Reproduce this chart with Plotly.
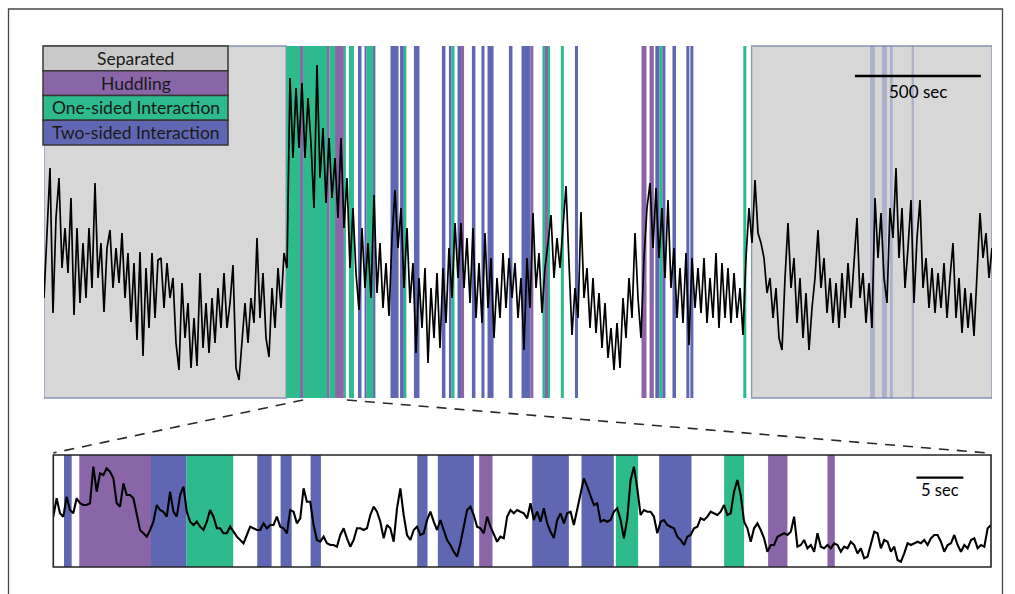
import numpy as np
import plotly.graph_objects as go

W, H = 1015, 594

# ---------------- DATA ----------------
# Full session recording (arbitrary fluorescence units), evenly sampled
TOP_DURATION = 3762  # seconds
top_signal = [
    10, 17, 23, 8.5, 18, 22, 13, 17, 12.5, 20, 8.3, 17, 9.5, 15.5, 10, 17, 11, 21.5, 12, 15.5,
    8.6, 15, 16.8, 11, 15, 11.5, 16.5, 10, 14.5, 7.6, 13.5, 5.8, 14.6, 4.2, 13, 7, 14.5, 8, 13.8, 14,
    9, 13.5, 10, 12, 5.5, 2.8, 11.5, 6, 9.5, 3, 8, 3.2, 12.5, 5, 9.5, 4.5, 10, 5.5, 11, 7,
    12.5, 7, 9.5, 13.3, 3, 1.8, 6, 9.5, 5.5, 10, 7.5, 16, 8, 12.5, 6, 4.1, 11, 7, 13, 9, 14.5,
    13, 32, 24, 31, 25, 31.5, 24, 30, 25.5, 19, 33.3, 22, 27, 19.5, 26, 20, 24, 18, 26, 17,
    22, 13, 19, 12.5, 8.8, 17, 11, 15.5, 10, 20.3, 10.5, 15.5, 9, 13.5, 8.2, 16, 20.8, 15, 19, 11,
    17, 9.5, 13.5, 4.5, 12, 7, 13, 3.5, 11, 6, 12.5, 5, 13, 7.5, 15, 10, 17.5, 12, 17.5, 11,
    16, 9.5, 17, 8, 13.5, 7.5, 16.5, 9, 14, 6, 12, 8, 14.5, 9, 14, 10, 13.5, 8, 12,
    4.8, 14, 9, 18.5, 11, 14.5, 8.5, 13, 15.5, 18.3, 12, 16, 13, 17, 21.2, 13.5, 6.3, 11, 8, 18.6,
    10, 13, 7, 12, 6.5, 10.5, 5, 9.5, 4, 7, 2.8, 7.5, 3, 10, 6, 12, 8, 16.5, 10, 6,
    14, 19, 21.5, 15, 21, 14, 19, 12, 19.8, 11, 15, 8, 13, 7.5, 14.5, 5.3, 14, 9, 13, 8.5,
    14, 7.5, 12, 8, 14.5, 7, 13.5, 8, 13, 7.5, 12.5, 8, 11, 6.3, 14, 19, 15.5, 21.8, 16.5,
    15.5, 14, 10.5, 12, 8, 11, 6, 4.8, 12, 17.5, 11, 14, 7.5, 12, 6, 10.5, 4.8, 9, 12, 16.8,
    11, 14, 8.5, 12, 7.5, 11.5, 7, 12.5, 8, 13.5, 9, 14, 18, 10, 12.5, 7.5, 11.5, 7, 20, 14,
    18.5, 12, 9.5, 19, 16, 23, 14, 19, 11, 15, 19.8, 9.5, 16, 19.8, 11, 14, 9, 13, 8.5, 12.5,
    9, 13.5, 8, 12, 15.5, 8, 12, 6.5, 11, 7, 10.5, 6.2, 13, 18.5, 14, 16.5, 12, 15,
]

# Behaviour epochs in the full session (seconds)
separated_start = [0, 2808]
separated_end = [961, 3762]
huddling_start = [1016, 1123, 1155, 1655, 1930, 1988, 2371, 2403]
huddling_end = [1028, 1133, 1190, 1667, 1942, 2000, 2391, 2420]
one_sided_start = [961, 1028, 1133, 1190, 1210, 1280, 1428, 1617, 1978, 2000, 2051, 2442, 2775]
one_sided_end = [1016, 1123, 1155, 1198, 1230, 1306, 1438, 1629, 1988, 2008, 2063, 2454, 2787]
two_sided_start = [1246, 1272, 1306, 1375, 1413, 1468, 1579, 1607, 1641, 1698, 1736, 1760,
                   1845, 1895, 2107, 2426, 2454, 2494, 2549, 2565]
two_sided_end = [1260, 1280, 1315, 1407, 1428, 1490, 1593, 1617, 1655, 1712, 1748, 1784,
                 1859, 1930, 2119, 2442, 2466, 2508, 2561, 2577]
# two-sided interaction episodes while separated (faint)
two_sided_sep_start = [3278, 3325, 3357, 3443]
two_sided_sep_end = [3297, 3345, 3368, 3452]

# Zoomed excerpt (seconds) shown in the lower panel
ZOOM_WINDOW = [1028, 1202]
BOTTOM_DURATION = 100
bottom_signal = [
    5.03, 6.87, 5.37, 5.03, 7.03, 5.7, 5.37, 6.87, 6.37, 6.2,
    6.2, 6.37, 10.03, 7.53, 9.37, 9.2, 9.87, 9.53, 8.87, 6.37,
    6.03, 8.37, 7.2, 7.2, 6.87, 5.2, 3.7, 3.37, 3.03, 3.7,
    4.53, 6.2, 5.7, 5.53, 5.03, 7.53, 5.53, 5.03, 7.2, 8.03,
    5.53, 4.53, 4.2, 4.53, 4.03, 3.7, 4.53, 5.7, 5.03, 3.87,
    3.87, 3.37, 3.37, 4.03, 3.53, 3.03, 2.7, 2.37, 3.2, 4.03,
    3.87, 3.7, 3.7, 4.37, 3.87, 4.2, 4.2, 5.03, 4.03, 3.87,
    3.37, 5.7, 5.53, 4.37, 4.87, 7.87, 6.53, 6.53, 4.2, 2.7,
    2.53, 3.03, 2.37, 2.2, 2.2, 2.03, 3.2, 3.87, 2.87, 2.03,
    2.7, 3.87, 3.87, 3.7, 3.87, 5.2,
    6.03, 5.53, 4.53, 2.87, 4.2, 3.87, 2.53, 5.87, 7.87, 5.2,
    3.2, 2.7, 3.7, 4.03, 3.2, 3.37, 4.7, 5.53, 4.53, 3.7,
    4.7, 3.7, 2.7, 2.2, 1.53, 1.03, 2.37, 4.03, 5.7, 6.03,
    5.2, 4.03, 3.87, 3.37, 5.03, 4.03, 3.2, 2.53, 3.03, 2.87,
    5.03, 5.7, 5.37, 5.7, 5.53, 5.37, 4.87, 6.37, 4.7, 5.53,
    4.53, 5.87, 4.37, 3.53, 2.9, 4.7, 5.37, 4.37, 5.37, 5.53,
    4.2, 5.7, 7.53, 8.87, 8.03, 7.2, 6.2, 6.37, 4.53, 4.7,
    4.53, 4.7, 5.53, 5.87, 4.7, 2.87, 4.87, 8.7, 10.03, 7.87,
    5.2, 5.7, 5.53, 5.53, 5.03, 3.37, 4.53, 4.7, 4.2, 4.03,
    3.87, 3.03, 2.7, 2.2, 3.03, 3.2,
    3.87, 4.03, 4.87, 4.7, 5.03, 5.53, 5.37, 5.2, 5.53, 6.2,
    5.2, 5.37, 7.53, 8.7, 7.2, 4.53, 3.87, 2.53, 3.87, 4.37,
    3.7, 2.87, 1.53, 2.2, 2.2, 3.03, 3.2, 3.37, 3.2, 3.53,
    5.03, 2.03, 2.2, 2.7, 1.87, 2.2, 1.53, 3.37, 2.03, 1.87,
    2.2, 1.87, 2.37, 2.2, 1.53, 2.03, 1.87, 2.53, 2.2, 1.37,
    1.87, 0.87, 1.03, 2.37, 3.53, 3.37, 1.87, 2.7, 2.53, 1.53,
    2.03, 0.7, 0.53, 1.37, 2.37, 2.2, 2.37, 2.53, 2.37, 2.7,
    2.2, 2.87, 3.2, 3.2, 2.53, 1.53, 2.2, 2.37, 3.2, 2.2,
    1.53, 2.2, 1.87, 2.7, 2.87, 1.87, 2.2, 2.03, 3.87, 4.2,
]
b_two_start = [1.14, 10.42, 21.75, 24.24, 27.44, 38.81, 41.01, 51.07, 56.33, 64.61]
b_two_end = [1.96, 14.22, 23.28, 25.42, 28.54, 39.91, 44.85, 54.98, 59.78, 68.06]
b_hud_start = [2.77, 45.42, 76.23, 82.56]
b_hud_end = [10.42, 46.84, 78.29, 83.34]
b_one_start = [14.22, 59.99, 71.54]
b_one_end = [19.19, 62.37, 73.67]

legend_labels = ["Separated", "Huddling", "One-sided Interaction", "Two-sided Interaction"]
TOP_SCALE = 500   # sec
BOTTOM_SCALE = 5  # sec

# ---------------- STYLE ----------------
C_SEP_LEG = "rgb(201,201,201)"
C_SEP = "rgb(215,215,215)"
C_HUD = "rgb(138,101,168)"
C_ONE = "rgb(45,186,140)"
C_TWO = "rgb(95,103,178)"
C_TWO_FAINT = "rgba(95,103,178,0.35)"
BORDER = "rgb(135,148,180)"
FONT = "Lato"

TOP_XDOM = [44 / W, 992 / W]
TOP_YDOM = [1 - 398 / H, 1 - 46 / H]
BOT_XDOM = [53.3 / W, 991 / W]
BOT_YDOM = [1 - 567 / H, 1 - 455 / H]
TOP_YMAX = 35.2
BOT_YMAX = 11.2

fig = go.Figure()

t_top = np.linspace(0, TOP_DURATION, len(top_signal))
fig.add_trace(go.Scatter(x=t_top, y=top_signal, mode="lines",
                         line=dict(color="black", width=1.7), xaxis="x", yaxis="y",
                         hoverinfo="skip", showlegend=False))
t_bot = np.linspace(0, BOTTOM_DURATION, len(bottom_signal))
fig.add_trace(go.Scatter(x=t_bot, y=bottom_signal, mode="lines",
                         line=dict(color="black", width=2.1), xaxis="x2", yaxis="y2",
                         hoverinfo="skip", showlegend=False))

shapes = []


def bands(starts, ends, color, xref, yref, line=None):
    for s, e in zip(starts, ends):
        shapes.append(dict(type="rect", xref=xref, yref=yref, x0=s, x1=e, y0=0, y1=1,
                           fillcolor=color, line=line or dict(width=0), layer="below"))


# top panel
bands(separated_start, separated_end, C_SEP, "x", "y domain",
      line=dict(color=BORDER, width=1.3))
bands(one_sided_start, one_sided_end, C_ONE, "x", "y domain")
bands(huddling_start, huddling_end, C_HUD, "x", "y domain")
bands(two_sided_start, two_sided_end, C_TWO, "x", "y domain")
bands(two_sided_sep_start, two_sided_sep_end, C_TWO_FAINT, "x", "y domain")

# bottom panel
bands(b_hud_start, b_hud_end, C_HUD, "x2", "y2 domain")
bands(b_two_start, b_two_end, C_TWO, "x2", "y2 domain")
bands(b_one_start, b_one_end, C_ONE, "x2", "y2 domain")
shapes.append(dict(type="rect", xref="x2 domain", yref="y2 domain", x0=0, x1=1, y0=0, y1=1,
                   line=dict(color="rgb(35,35,35)", width=1.6), layer="above"))

# outer frame
shapes.append(dict(type="rect", xref="paper", yref="paper", x0=8.5 / W, x1=1002.5 / W,
                   y0=-0.05, y1=1 - 9 / H, line=dict(color="rgb(70,70,70)", width=1.3)))

# legend boxes
leg_colors = [C_SEP_LEG, C_HUD, C_ONE, C_TWO]
lx0, lx1, ly0, row_h = 43 / W, 228 / W, 46, 24.75
annotations = []
for i, (lab, col) in enumerate(zip(legend_labels, leg_colors)):
    ya = 1 - (ly0 + i * row_h) / H
    yb = 1 - (ly0 + (i + 1) * row_h) / H
    shapes.append(dict(type="rect", xref="paper", yref="paper", x0=lx0, x1=lx1, y0=yb, y1=ya,
                       fillcolor=col, line=dict(color="rgb(55,55,55)", width=1.5)))
    annotations.append(dict(xref="paper", yref="paper", x=(lx0 + lx1) / 2, y=(ya + yb) / 2,
                            text=lab, showarrow=False, xanchor="center", yanchor="middle",
                            font=dict(family=FONT, size=17.5, color="rgb(25,25,25)")))

# scale bars
sb_x0 = 3218
shapes.append(dict(type="line", xref="x", yref="y", x0=sb_x0, x1=sb_x0 + TOP_SCALE,
                   y0=32.2, y1=32.2, line=dict(color="black", width=2.5)))
annotations.append(dict(xref="x", yref="y", x=sb_x0 + TOP_SCALE / 2, y=30.6,
                        text=f"{TOP_SCALE} sec", showarrow=False, yanchor="middle",
                        font=dict(family=FONT, size=17, color="black")))
bs_x0 = 92.05
shapes.append(dict(type="line", xref="x2", yref="y2", x0=bs_x0, x1=bs_x0 + BOTTOM_SCALE,
                   y0=8.93, y1=8.93, line=dict(color="black", width=2.2)))
annotations.append(dict(xref="x2", yref="y2", x=bs_x0 + BOTTOM_SCALE / 2, y=7.75,
                        text=f"{BOTTOM_SCALE} sec", showarrow=False, yanchor="middle",
                        font=dict(family=FONT, size=16.5, color="black")))


# dashed zoom connectors
def top_px(t):
    return TOP_XDOM[0] + t / TOP_DURATION * (TOP_XDOM[1] - TOP_XDOM[0])


def bot_px(t):
    return BOT_XDOM[0] + t / BOTTOM_DURATION * (BOT_XDOM[1] - BOT_XDOM[0])


y_top_end = TOP_YDOM[0] - 2 / H
y_bot_end = BOT_YDOM[1] + 2 / H
for tt, tb in [(ZOOM_WINDOW[0], 0), (ZOOM_WINDOW[1], BOTTOM_DURATION * 0.997)]:
    shapes.append(dict(type="line", xref="paper", yref="paper", x0=top_px(tt), y0=y_top_end,
                       x1=bot_px(tb), y1=y_bot_end,
                       line=dict(color="rgb(40,40,40)", width=1.6, dash="10px,8px")))

ax_common = dict(visible=False, fixedrange=True, showgrid=False, zeroline=False)
fig.update_layout(
    width=W, height=H, autosize=False,
    margin=dict(l=0, r=0, t=0, b=0),
    paper_bgcolor="white", plot_bgcolor="white",
    showlegend=False,
    xaxis=dict(domain=TOP_XDOM, range=[0, TOP_DURATION], anchor="y", **ax_common),
    yaxis=dict(domain=TOP_YDOM, range=[0, TOP_YMAX], anchor="x", **ax_common),
    xaxis2=dict(domain=BOT_XDOM, range=[0, BOTTOM_DURATION], anchor="y2", **ax_common),
    yaxis2=dict(domain=BOT_YDOM, range=[0, BOT_YMAX], anchor="x2", **ax_common),
    shapes=shapes,
    annotations=annotations,
)

fig.write_html("out.html")
